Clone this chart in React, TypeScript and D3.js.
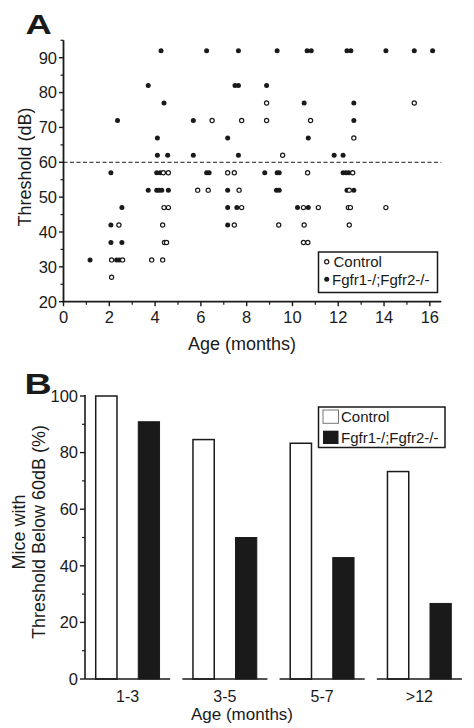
import React from 'react';
import * as d3 from 'd3';

// Panel A: [age (months), threshold (dB)]
const controlPoints: [number, number][] = [
  [8.87, 77], [15.32, 77],
  [6.49, 72], [7.78, 72], [8.87, 72], [10.79, 72],
  [12.68, 67],
  [9.57, 62],
  [4.36, 57], [4.58, 57], [7.17, 57], [7.46, 57], [10.66, 57], [12.63, 57],
  [5.86, 52], [6.32, 52], [7.67, 52], [12.48, 52],
  [4.39, 47], [4.58, 47], [7.78, 47], [10.48, 47], [11.13, 47], [12.44, 47], [12.53, 47], [14.08, 47],
  [2.42, 42], [4.33, 42], [7.46, 42], [9.40, 42], [10.51, 42], [12.48, 42],
  [4.41, 37], [4.50, 37], [10.48, 37], [10.67, 37],
  [2.10, 32], [2.58, 32], [3.85, 32], [4.33, 32],
  [2.10, 27],
];

const mutantPoints: [number, number][] = [
  [4.26, 92], [6.25, 92], [7.64, 92], [9.33, 92], [10.64, 92], [10.82, 92], [12.38, 92], [12.55, 92], [14.08, 92], [15.32, 92], [16.12, 92],
  [3.70, 82], [7.49, 82], [7.64, 82], [8.87, 82],
  [4.39, 77], [10.51, 77], [12.68, 77],
  [2.36, 72], [5.67, 72], [12.68, 72],
  [4.10, 67], [7.17, 67], [10.69, 67],
  [4.10, 62], [4.55, 62], [5.67, 62], [7.64, 62], [11.82, 62], [12.21, 62],
  [2.07, 57], [4.07, 57], [4.22, 57], [6.25, 57], [6.36, 57], [8.79, 57], [9.33, 57], [9.42, 57], [12.21, 57], [12.34, 57], [12.46, 57],
  [3.70, 52], [4.07, 52], [4.17, 52], [4.29, 52], [4.58, 52], [7.17, 52], [9.30, 52], [9.42, 52], [12.38, 52], [12.68, 52],
  [2.55, 47], [7.17, 47], [7.57, 47], [10.22, 47], [10.69, 47],
  [2.07, 42], [7.17, 42],
  [2.07, 37], [2.55, 37],
  [1.16, 32], [2.32, 32], [2.44, 32],
];

const ageTicksA = [0, 2, 4, 6, 8, 10, 12, 14, 16];
const ageMinorTicksA = [1, 3, 5, 7, 9, 11, 13, 15];
const thresholdTicksA = [20, 30, 40, 50, 60, 70, 80, 90];
const thresholdMinorTicksA = [25, 35, 45, 55, 65, 75, 85, 95];
const cutoffDb = 60;

// Panel B
const ageGroups = ['1-3', '3-5', '5-7', '>12'];
const controlPct = [100, 84.6, 83.3, 73.3];
const mutantPct = [90.9, 50, 42.9, 26.7];
const pctTicks = [0, 20, 40, 60, 80, 100];
const pctMinorTicks = [10, 30, 50, 70, 90];

const seriesNames = ['Control', 'Fgfr1-/;Fgfr2-/-'];

const FONT = 'Liberation Sans, Arial, Helvetica, sans-serif';
const INK = '#1a1a1a';

export default function App() {
  const W = 474;
  const H = 728;

  const xA = d3.scaleLinear().domain([0, 16.5]).range([63.5, 441.3]);
  const yA = d3.scaleLinear().domain([20, 95]).range([301.7, 40.3]);

  const xB = d3.scaleBand<string>().domain(ageGroups).range([79, 468]).paddingInner(0.125).paddingOuter(0.0625);
  const xSub = d3.scaleBand<string>().domain(['c', 'm']).range([0, xB.bandwidth()]).paddingInner(0.5).paddingOuter(0.25);
  const yB = d3.scaleLinear().domain([0, 100]).range([679, 396]);

  const axisW = 1.8;

  return (
    <svg width={W} height={H} viewBox={`0 0 ${W} ${H}`} style={{ position: 'absolute', left: 0, top: 0, background: '#fff' }} fontFamily={FONT}>
      <rect x={0} y={0} width={W} height={H} fill="#fff" />

      {/* ---------- Panel A ---------- */}
      <text transform="translate(25.5,33.5) scale(1.3,1)" fontSize={28} fontWeight="bold" fill={INK}>A</text>

      {/* dashed cutoff line */}
      <line x1={xA(0)} x2={xA(16.5)} y1={yA(cutoffDb)} y2={yA(cutoffDb)} stroke={INK} strokeWidth={1} strokeDasharray="4,2.5" />

      {/* points */}
      {mutantPoints.map(([a, t], i) => (
        <circle key={'m' + i} cx={xA(a)} cy={yA(t)} r={2.5} fill={INK} />
      ))}
      {controlPoints.map(([a, t], i) => (
        <circle key={'c' + i} cx={xA(a)} cy={yA(t)} r={2.1} fill="#fff" stroke={INK} strokeWidth={1.2} />
      ))}

      {/* axes A */}
      <line x1={xA(0)} x2={xA(0)} y1={yA(95)} y2={yA(20) + axisW / 2} stroke={INK} strokeWidth={axisW} />
      <line x1={xA(0) - axisW / 2} x2={xA(16.5)} y1={yA(20)} y2={yA(20)} stroke={INK} strokeWidth={axisW} />
      {thresholdTicksA.map((t) => (
        <g key={'yt' + t}>
          <line x1={xA(0) - 4.5} x2={xA(0)} y1={yA(t)} y2={yA(t)} stroke={INK} strokeWidth={1.4} />
          <text x={57} y={yA(t) + 5.8} textAnchor="end" fontSize={16.5} fill={INK}>{t}</text>
        </g>
      ))}
      {thresholdMinorTicksA.map((t) => (
        <line key={'ym' + t} x1={xA(0) - 3} x2={xA(0)} y1={yA(t)} y2={yA(t)} stroke={INK} strokeWidth={1.2} />
      ))}
      {ageTicksA.map((a) => (
        <g key={'xt' + a}>
          <line x1={xA(a)} x2={xA(a)} y1={yA(20)} y2={yA(20) + 4.5} stroke={INK} strokeWidth={1.4} />
          <text x={xA(a)} y={323} textAnchor="middle" fontSize={16.5} fill={INK}>{a}</text>
        </g>
      ))}
      {ageMinorTicksA.map((a) => (
        <line key={'xm' + a} x1={xA(a)} x2={xA(a)} y1={yA(20)} y2={yA(20) + 3} stroke={INK} strokeWidth={1.2} />
      ))}
      <text transform={`translate(30.5,${(yA(20) + yA(95)) / 2 - 4}) rotate(-90)`} textAnchor="middle" fontSize={18} fill={INK}>Threshold (dB)</text>
      <text x={242} y={349.5} textAnchor="middle" fontSize={18} fill={INK}>Age (months)</text>

      {/* legend A */}
      <rect x={318.5} y={252} width={119} height={40.5} fill="#fff" stroke={INK} strokeWidth={1.5} />
      <circle cx={326.7} cy={261.7} r={2.1} fill="#fff" stroke={INK} strokeWidth={1.2} />
      <text x={333.5} y={267} fontSize={15} fill={INK}>{seriesNames[0]}</text>
      <circle cx={326.7} cy={279.3} r={2.5} fill={INK} />
      <text x={332} y={284.6} fontSize={15} fill={INK}>{seriesNames[1]}</text>

      {/* ---------- Panel B ---------- */}
      <text transform="translate(24.5,393.5) scale(1.3,1)" fontSize={29} fontWeight="bold" fill={INK}>B</text>

      {ageGroups.map((g, i) => {
        const x0 = xB(g) as number;
        const bw = xSub.bandwidth();
        return (
          <g key={'bar' + g}>
            <rect x={x0 + (xSub('c') as number)} y={yB(controlPct[i])} width={bw} height={yB(0) - yB(controlPct[i])} fill="#fff" stroke={INK} strokeWidth={1.5} />
            <rect x={x0 + (xSub('m') as number)} y={yB(mutantPct[i])} width={bw} height={yB(0) - yB(mutantPct[i])} fill={INK} stroke={INK} strokeWidth={1} />
            <line x1={x0} x2={x0 + xB.bandwidth()} y1={yB(0)} y2={yB(0)} stroke={INK} strokeWidth={1.6} />
            <text x={x0 + xB.bandwidth() / 2} y={701.5} textAnchor="middle" fontSize={16} fill={INK}>{g}</text>
          </g>
        );
      })}

      {/* y axis B */}
      <line x1={85} x2={85} y1={yB(100) - 1} y2={yB(0)} stroke={INK} strokeWidth={1.6} />
      {pctTicks.map((p) => (
        <g key={'pt' + p}>
          <line x1={80} x2={85} y1={yB(p)} y2={yB(p)} stroke={INK} strokeWidth={1.4} />
          <text x={78} y={yB(p) + 5.8} textAnchor="end" fontSize={16.5} fill={INK}>{p}</text>
        </g>
      ))}
      {pctMinorTicks.map((p) => (
        <line key={'pm' + p} x1={82} x2={85} y1={yB(p)} y2={yB(p)} stroke={INK} strokeWidth={1.2} />
      ))}
      <text transform="translate(25,532) rotate(-90)" textAnchor="middle" fontSize={18} fill={INK}>Mice with</text>
      <text transform="translate(44.5,532) rotate(-90)" textAnchor="middle" fontSize={18} fill={INK}>Threshold Below 60dB (%)</text>
      <text x={242} y={720} textAnchor="middle" fontSize={17} fill={INK}>Age (months)</text>

      {/* legend B */}
      <rect x={318.5} y={407} width={126.5} height={40.5} fill="#fff" stroke={INK} strokeWidth={1.5} />
      <rect x={323} y={410} width={15.5} height={13.3} fill="#fff" stroke="#777" strokeWidth={1} />
      <text x={341} y={422} fontSize={15} fill={INK}>{seriesNames[0]}</text>
      <rect x={323} y={430.7} width={15.5} height={13.3} fill={INK} />
      <text x={341} y={442.6} fontSize={15} fill={INK}>{seriesNames[1]}</text>
    </svg>
  );
}
